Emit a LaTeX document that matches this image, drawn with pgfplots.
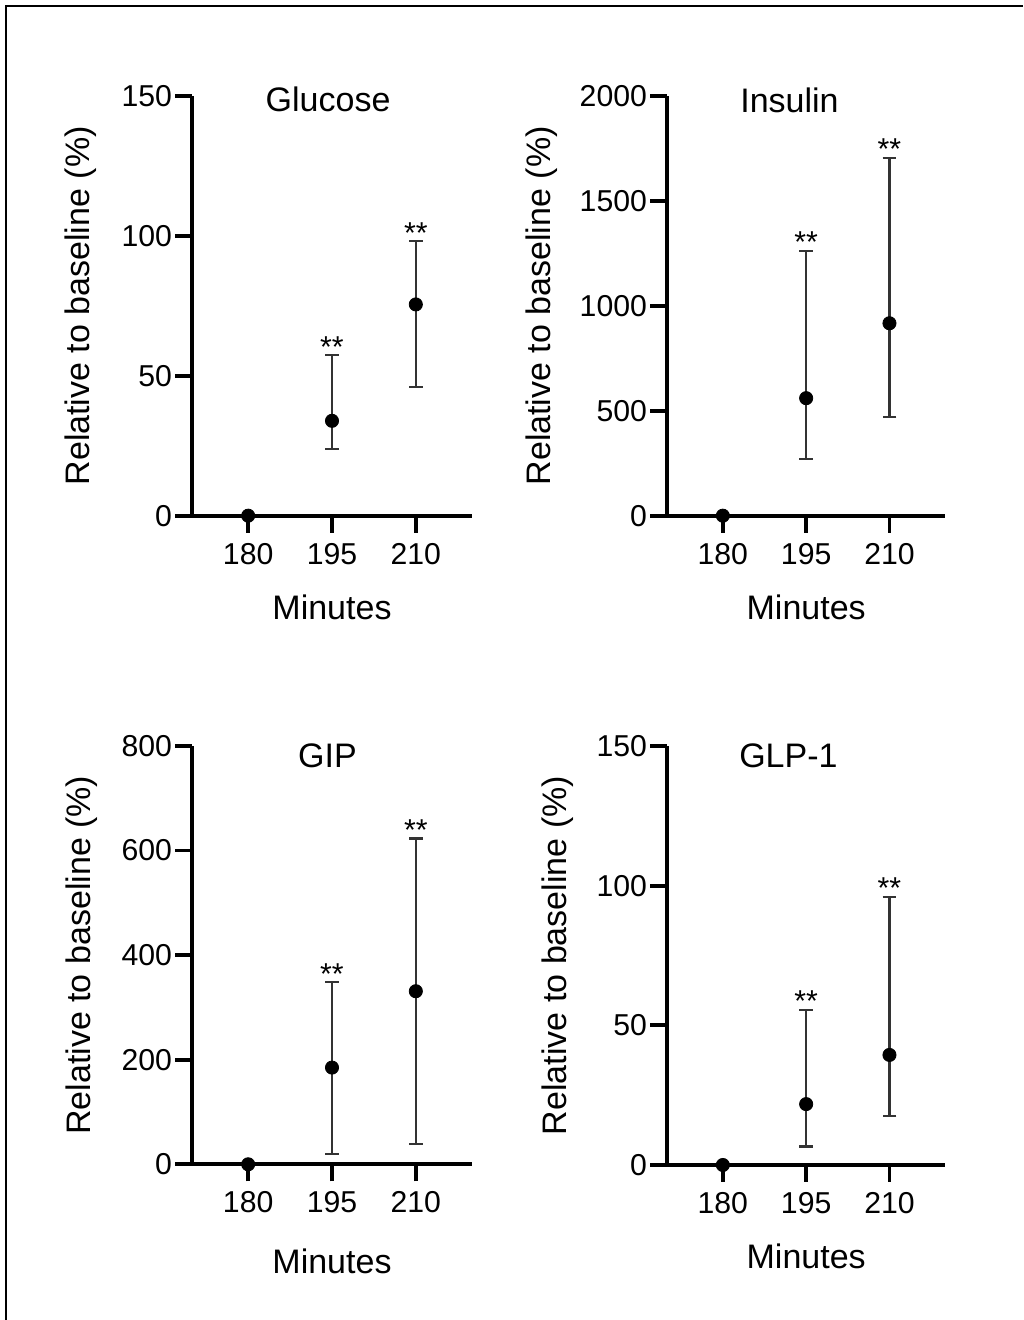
\documentclass[border=0pt]{standalone}
\usepackage{pgfplots}
\pgfplotsset{compat=1.18}
\usepackage{fontspec}
\setmainfont{Liberation Sans}
\newcommand{\tickfont}{\fontsize{15.1}{17}\selectfont}
\newcommand{\labfont}{\fontsize{17}{20}\selectfont}
\tikzset{
  star/.style={anchor=base,font=\tickfont,yshift=-1pt,inner sep=0pt},
  ttl/.style={anchor=base,font=\labfont,inner sep=0pt},
}
\pgfplotsset{
  panel/.style={
    scale only axis,
    anchor=south west,
    axis lines=left,
    axis line style={line width=1.9pt,-},
    xmin=170, xmax=220,
    xtick={180,195,210},
    ymin=0,
    tick align=outside,
    major tick length=8.5pt,
    tick style={line width=1.9pt,black},
    minor tick num=0,
    /pgf/number format/assume math mode=true,
    /pgf/number format/1000 sep={},
    scaled ticks=false,
    tick label style={font=\tickfont},
    yticklabel style={inner sep=0pt,xshift=-1.5pt},
    xticklabel style={inner sep=0pt,yshift=-5pt},
    label style={font=\labfont},
    xlabel={Minutes},
    ylabel={Relative to baseline (\%)},
    clip=false,
  },
  pts/.style={only marks, mark=*, mark size=3.3pt, black,
    error bars/.cd, y dir=both, y explicit,
    error bar style={line width=1.1pt,black!80},
    error mark options={line width=1.1pt,black!80,mark size=3.4pt,rotate=90}},
}
\begin{document}
\begin{tikzpicture}
\path[use as bounding box] (0,0) rectangle (511.5pt,660pt);
\draw[line width=1pt] (3.1pt,0pt) -- (3.1pt,656.75pt) -- (511.5pt,656.75pt);

% Glucose
\begin{axis}[panel, at={(96.15pt,402.15pt)}, width=139.7pt, height=209.85pt,
  ymax=150, ytick={0,50,100,150},
  ylabel style={at={(axis description cs:-0.3687,0.5)},anchor=base},
  xlabel style={at={(axis description cs:0.5,-0.2478)},anchor=base}]
\addplot[pts] coordinates {
  (180,0) +- (0,0)
  (195,33.9) += (0,23.5) -= (0,10.2)
  (210,75.5) += (0,22.6) -= (0,29.5)
};
\node[ttl] at (axis description cs:0.486,0.9619) {Glucose};
\node[star] at (axis cs:195,57.4) {**};
\node[star] at (axis cs:210,98.1) {**};
\end{axis}

% Insulin
\begin{axis}[panel, at={(333.65pt,402.15pt)}, width=138.85pt, height=209.85pt,
  ymax=2000, ytick={0,500,1000,1500,2000},
  ylabel style={at={(axis description cs:-0.4213,0.5)},anchor=base},
  xlabel style={at={(axis description cs:0.5,-0.2478)},anchor=base}]
\addplot[pts] coordinates {
  (180,0) +- (0,0)
  (195,560) += (0,703) -= (0,288)
  (210,917) += (0,789) -= (0,448)
};
\node[ttl] at (axis description cs:0.44,0.9607) {Insulin};
\node[star] at (axis cs:195,1263) {**};
\node[star] at (axis cs:210,1706) {**};
\end{axis}

% GIP
\begin{axis}[panel, at={(96.15pt,77.85pt)}, width=139.7pt, height=209.15pt,
  ymax=800, ytick={0,200,400,600,800},
  ylabel style={at={(axis description cs:-0.365,0.5)},anchor=base},
  xlabel style={at={(axis description cs:0.5,-0.2606)},anchor=base}]
\addplot[pts] coordinates {
  (180,0) +- (0,0)
  (195,185) += (0,163) -= (0,165)
  (210,331) += (0,292) -= (0,292)
};
\node[ttl] at (axis description cs:0.484,0.9498) {GIP};
\node[star] at (axis cs:195,348) {**};
\node[star] at (axis cs:210,623) {**};
\end{axis}

% GLP-1
\begin{axis}[panel, at={(333.65pt,77.5pt)}, width=138.85pt, height=209.5pt,
  ymax=150, ytick={0,50,100,150},
  ylabel style={at={(axis description cs:-0.362,0.5)},anchor=base},
  xlabel style={at={(axis description cs:0.5,-0.2482)},anchor=base}]
\addplot[pts] coordinates {
  (180,0) +- (0,0)
  (195,21.8) += (0,33.7) -= (0,15.2)
  (210,39.4) += (0,56.6) -= (0,21.8)
};
\node[ttl] at (axis description cs:0.436,0.9487) {GLP-1};
\node[star] at (axis cs:195,55.5) {**};
\node[star] at (axis cs:210,96.0) {**};
\end{axis}
\end{tikzpicture}
\end{document}
